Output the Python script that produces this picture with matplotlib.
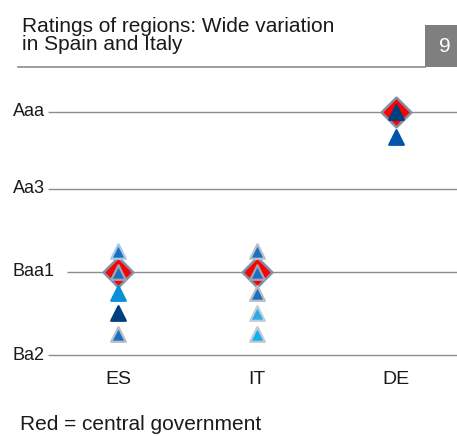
import numpy as np
import matplotlib
matplotlib.use("Agg")
import matplotlib.pyplot as plt

plt.rcParams['font.family'] = ['Liberation Sans', 'DejaVu Sans']

# rating scale (notches), Aaa = 1 ... Ba2 = 12
rating_names = ["Aaa", "Aa1", "Aa2", "Aa3", "A1", "A2", "A3",
                "Baa1", "Baa2", "Baa3", "Ba1", "Ba2"]
grid_ratings = ["Aaa", "Aa3", "Baa1", "Ba2"]
grid_pos = [2.93, 2.0, 1.0, 0.0]

countries = ["ES", "IT", "DE"]
central = ["Baa1", "Baa1", "Aaa"]

# regional ratings per country, with marker fill / edge colours
regions = {
    "ES": ["A3", "Baa1", "Baa2", "Baa3", "Ba1"],
    "IT": ["A3", "Baa1", "Baa2", "Baa3", "Ba1"],
    "DE": ["Aaa", "Aa1"],
}
region_fill = {
    "ES": ["#1f6fc0", "#1f6fc0", "#0a8fd8", "#003f80", "#1f6fc0"],
    "IT": ["#1f6fc0", "#1f6fc0", "#1f6fc0", "#30a8e4", "#10b0ee"],
    "DE": ["#003f80", "#0055a8"],
}
region_edge = {
    "ES": ["#a8c8ec", "#9aa6b4", "#0a8fd8", "#003f80", "#b8bcc4"],
    "IT": ["#b8c0cc", "#9aa6b4", "#b8bcc4", "#c0ccd8", "#c0c8d0"],
    "DE": ["#003f80", "#0055a8"],
}


def rpos(name):
    notch = rating_names.index(name) + 1
    anchors = [rating_names.index(g) + 1 for g in grid_ratings]
    return np.interp(notch, anchors, grid_pos)


W, H = 457, 436
fig = plt.figure(figsize=(W / 100, H / 100), dpi=100)
ax = fig.add_axes([0, 71 / H, 1, 270 / H])
# x in data units: ES at px 118, DE at px 396
px_per = 139.0
x0 = -118 / px_per
ax.set_xlim(x0, x0 + W / px_per)
ax.set_ylim(-0.12, 3.13)
ax.axis("off")

line_start_px = [48, 48, 67, 48]
for g, p, lx in zip(grid_ratings, grid_pos, line_start_px):
    ax.plot([x0 + lx / px_per, x0 + W / px_per], [p, p], color="#8c8c8c",
            lw=1.0, zorder=1, solid_capstyle="butt")
    ax.text(x0 + 13 / px_per, p, g, ha="left", va="center", fontsize=13,
            color="#1a1a1a", zorder=2)

for i, c in enumerate(countries):
    ax.scatter([i], [rpos(central[i])], marker="D", s=230, color="#ff0000",
               edgecolor="#8090a8", linewidth=1.8, zorder=3)
    for r, fc, ec in zip(regions[c], region_fill[c], region_edge[c]):
        ax.scatter([i], [rpos(r)], marker="^", s=110, color=fc,
                   edgecolor=ec, linewidth=1.6, zorder=4)
    ax.text(i, -0.30, c, ha="center", va="center", fontsize=14,
            color="#1a1a1a", clip_on=False)

fig.text(22 / W, 1 - 31.5 / H, "Ratings of regions: Wide variation",
         ha="left", va="baseline", fontsize=15, color="#1a1a1a")
fig.text(22 / W, 1 - 50 / H, "in Spain and Italy",
         ha="left", va="baseline", fontsize=15, color="#1a1a1a")
fig.add_artist(plt.Line2D([18 / W, 425 / W], [1 - 67 / H, 1 - 67 / H],
                          color="#8c8c8c", lw=1.2))
fig.add_artist(plt.Rectangle((425 / W, 1 - 67 / H), 32 / W, 42 / H,
                             color="#7f7f7f", lw=0))
fig.text(445 / W, 1 - 46 / H, "9", ha="center", va="center",
         fontsize=15, color="white")
fig.text(20 / W, 1 - 430 / H, "Red = central government", ha="left",
         va="baseline", fontsize=15, color="#1a1a1a")

fig.savefig("out.png", dpi=100)
